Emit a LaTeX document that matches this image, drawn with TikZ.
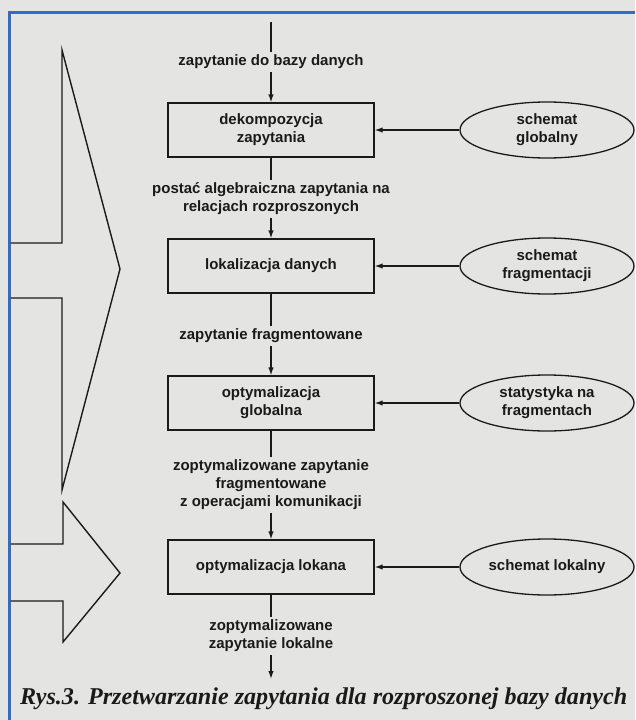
\documentclass[tikz,border=0pt]{standalone}
\usepackage{fontspec}
\usepackage{graphicx}
\setmainfont{Liberation Serif}
\setsansfont{Liberation Sans}
\usetikzlibrary{shapes.geometric,arrows.meta}
\definecolor{bg}{HTML}{E4E5E3}
\definecolor{frameblue}{HTML}{2F6CCB}
\definecolor{ink}{HTML}{1A1A1A}
\begin{document}
\begin{tikzpicture}[x=1pt,y=-1pt,
  lbl/.style={font=\sffamily\bfseries\fontsize{15}{18}\selectfont, align=center, inner sep=3pt, text=ink},
  proc/.style={draw=ink, line width=1.3pt, minimum width=206pt, minimum height=54pt, align=center,
    font=\sffamily\bfseries\fontsize{15}{18}\selectfont, text=ink},
  src/.style={ellipse, draw=ink, line width=1.3pt, minimum width=174pt, minimum height=56pt, inner sep=0pt, align=center,
    font=\sffamily\bfseries\fontsize{15}{18}\selectfont, text=ink},
  flow/.style={draw=ink, line width=1.3pt, -{Latex[length=8pt,width=5.5pt]}},
  plain/.style={draw=ink, line width=1.3pt},
  bigarrow/.style={draw=ink, line width=1.4pt, line join=miter}]
\useasboundingbox (0,0) rectangle (635,720);
\fill[bg] (0,0) rectangle (635,720);
\draw[frameblue, line width=3pt] (9,720) -- (9,12) -- (635,12);

% big arrows on the left
\draw[bigarrow] (10.5,243) -- (62,243) -- (62,50) -- (120,269) -- (62,490) -- (62,298) -- (10.5,298);
\draw[bigarrow] (10.5,544) -- (63,544) -- (63,502) -- (120,573) -- (63,642) -- (63,601) -- (10.5,601);

% flow
\coordinate (start) at (271,22);
\node[lbl] (t1) at (271,62) {zapytanie do bazy danych};
\node[proc] (b1) at (271,130) {dekompozycja\\zapytania};
\node[src] (e1) at (547,130) {schemat\\globalny};
\node[lbl] (t2) at (271,199) {postać algebraiczna zapytania na\\relacjach rozproszonych};
\node[proc] (b2) at (271,266) {lokalizacja danych};
\node[src] (e2) at (547,266) {schemat\\fragmentacji};
\node[lbl] (t3) at (271,336) {zapytanie fragmentowane};
\node[proc] (b3) at (271,403) {optymalizacja\\globalna};
\node[src] (e3) at (547,403) {statystyka na\\fragmentach};
\node[lbl] (t4) at (271,485) {zoptymalizowane zapytanie\\fragmentowane\\z operacjami komunikacji};
\node[proc] (b4) at (271,567) {optymalizacja lokana};
\node[src] (e4) at (547,567) {schemat lokalny};
\node[lbl] (t5) at (271,636) {zoptymalizowane\\zapytanie lokalne};
\coordinate (end) at (271,679);

\draw[plain] (start) -- (t1);
\draw[flow] (t1) -- (b1);
\draw[plain] (b1) -- (t2);
\draw[flow] (t2) -- (b2);
\draw[plain] (b2) -- (t3);
\draw[flow] (t3) -- (b3);
\draw[plain] (b3) -- (t4);
\draw[flow] (t4) -- (b4);
\draw[plain] (b4) -- (t5);
\draw[flow] (t5) -- (end);

\draw[flow] (e1) -- (b1);
\draw[flow] (e2) -- (b2);
\draw[flow] (e3) -- (b3);
\draw[flow] (e4) -- (b4);

% caption
\node[anchor=base west, inner sep=0pt, text=ink] (cap) at (20,704)
  {\resizebox{607pt}{!}{\bfseries\itshape Rys.3. Przetwarzanie zapytania dla rozproszonej bazy danych}};
\end{tikzpicture}
\end{document}
